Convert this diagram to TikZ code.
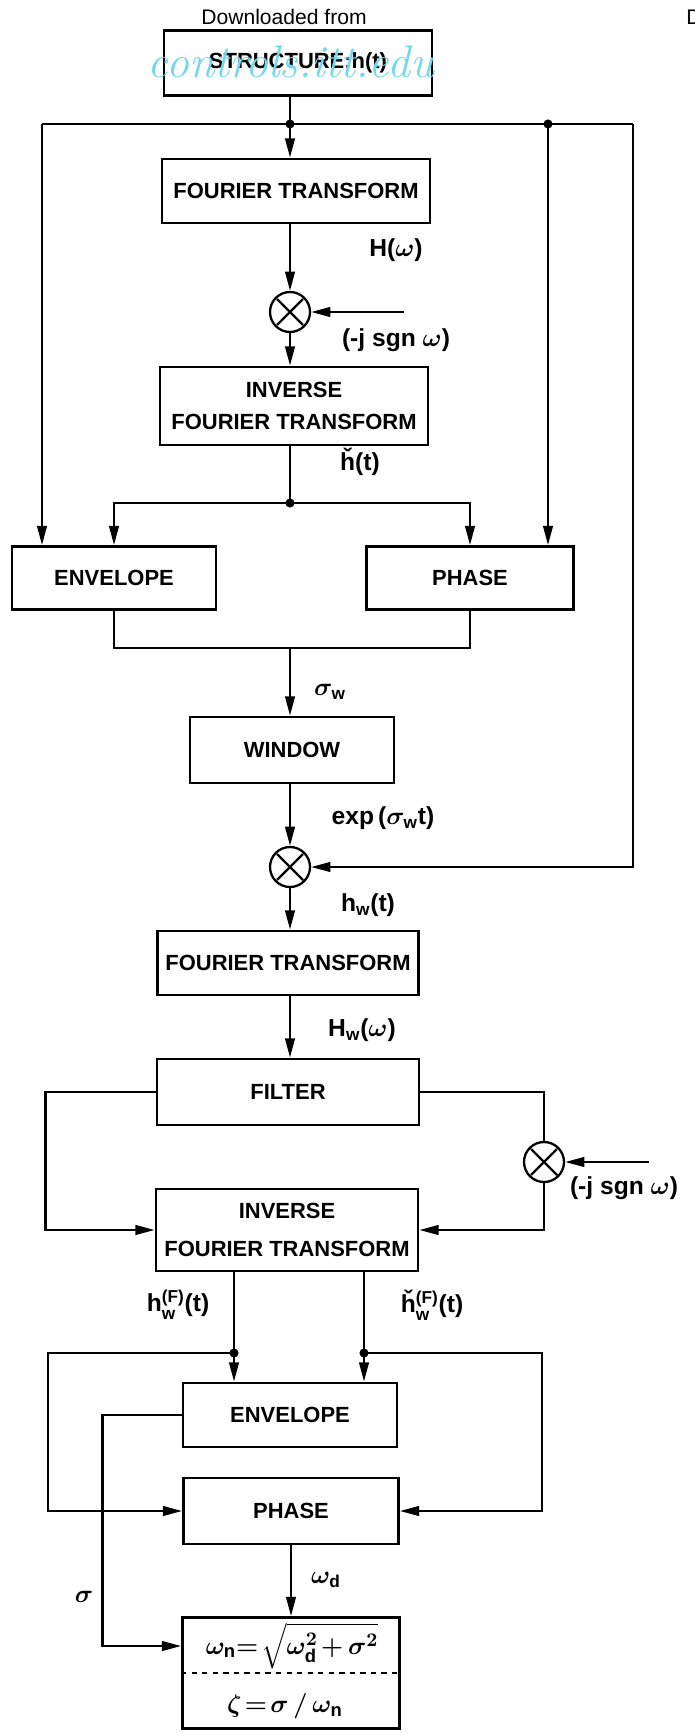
\documentclass[tikz,border=0pt]{standalone}
\usepackage{amsmath}
\usepackage{fontspec}
\setsansfont{Liberation Sans}
\usepackage{tikz}
\usetikzlibrary{arrows.meta}
\definecolor{wmark}{RGB}{115,215,240}

\begin{document}
\begin{tikzpicture}[x=0.02cm,y=-0.02cm,>={Triangle[length=11pt,width=5.5pt]},
  blk/.style={draw,line width=1.6pt,align=center,inner sep=2pt,font=\sffamily\bfseries\boldmath\fontsize{12.5}{18}\selectfont},
  lbl/.style={font=\sffamily\bfseries\boldmath\fontsize{14}{16}\selectfont,inner sep=0pt},
  mult/.style={circle,draw,line width=1.3pt,minimum size=0.8cm,inner sep=0pt,
    path picture={\draw[line width=1.3pt] ([shift={(-0.26cm,-0.26cm)}]path picture bounding box.center) -- ([shift={(0.26cm,0.26cm)}]path picture bounding box.center)
      ([shift={(-0.26cm,0.26cm)}]path picture bounding box.center) -- ([shift={(0.26cm,-0.26cm)}]path picture bounding box.center);}},
  wire/.style={line width=1.3pt}]
\useasboundingbox (0,0) rectangle (695,1733);
\node[font=\sffamily\fontsize{12}{14}\selectfont] (dl) at (284,17) {Downloaded from};
\node[font=\sffamily\fontsize{12}{14}\selectfont,anchor=west,inner sep=0pt] (dr) at (686,17) {D};
\node[blk,minimum width=5.36cm,minimum height=1.3cm] (struct) at (298,63) {STRUCTURE:h(t)};
\node[blk,minimum width=5.36cm,minimum height=1.28cm] (ft1) at (296,191) {FOURIER TRANSFORM};
\node[mult] (mul1) at (290,312) {};
\node[blk,minimum width=5.36cm,minimum height=1.56cm] (ift1) at (294,406) {INVERSE\\FOURIER TRANSFORM};
\node[blk,minimum width=4.08cm,minimum height=1.26cm] (env1) at (114,578) {ENVELOPE};
\node[blk,minimum width=4.14cm,minimum height=1.26cm] (ph1) at (470,578) {PHASE};
\node[blk,minimum width=4.08cm,minimum height=1.32cm] (win) at (292,750) {WINDOW};
\node[mult] (mul2) at (290,867) {};
\node[blk,minimum width=5.22cm,minimum height=1.28cm] (ft2) at (288,963) {FOURIER TRANSFORM};
\node[blk,minimum width=5.24cm,minimum height=1.32cm] (filt) at (288,1092) {FILTER};
\node[mult] (mul3) at (544,1162) {};
\node[blk,minimum width=5.24cm,minimum height=1.64cm] (ift2) at (287,1230) {INVERSE\\[4pt]FOURIER TRANSFORM};
\node[blk,minimum width=4.28cm,minimum height=1.28cm] (env2) at (290,1415) {ENVELOPE};
\node[blk,minimum width=4.3cm,minimum height=1.32cm] (ph2) at (291,1511) {PHASE};
\node[blk,minimum width=4.34cm,minimum height=2.22cm] (res) at (291,1673) {};
\node[lbl,font=\sffamily\bfseries\boldmath\fontsize{15}{17}\selectfont] (wn) at (292,1646) {$\omega_{\text{n}}{=}\mkern2mu\sqrt{\omega_{\text{d}}^2\mkern2mu{+}\mkern3mu\sigma^2}$};
\node[lbl,font=\sffamily\bfseries\boldmath\fontsize{15}{17}\selectfont] (zeta) at (285,1706) {$\zeta\mkern2mu{=}\mkern2mu\sigma\,/\,\omega_{\text{n}}$};
\coordinate (dv) at (291,1673);
\draw[wire,dashed] (res.west |- dv) -- (res.east |- dv);
\node[text=wmark,font=\rmfamily\itshape\fontsize{26}{26}\selectfont] (wm) at (291,62) {controls.itt.edu};

\coordinate (jtop) at (290,124);
\coordinate (jl) at (42,124);
\coordinate (jp) at (548,124);
\coordinate (jr) at (633,124);
\draw[wire] (struct.south -| jtop) -- (jtop);
\draw[wire,->] (jtop) -- (jtop |- ft1.north);
\draw[wire] (jl) -- (jr);
\draw[wire,->] (jl) -- (jl |- env1.north);
\draw[wire,->] (jp) -- (jp |- ph1.north);
\draw[wire,->] (jr) |- (mul2.east);
\fill (jtop) circle (2.6pt);
\fill (jp) circle (2.6pt);
\draw[wire,->] (ft1.south -| mul1) -- (mul1.north);
\coordinate (in1) at (404,312);
\draw[wire,->] (in1) -- (mul1.east);
\draw[wire,->] (mul1.south) -- (mul1.south |- ift1.north);
\coordinate (sp1) at (290,503);
\draw[wire] (ift1.south -| sp1) -- (sp1);
\draw[wire,->] (sp1) -| (env1.north);
\draw[wire,->] (sp1) -| (ph1.north);
\fill (sp1) circle (2.6pt);
\coordinate (mg) at (290,648);
\draw[wire] (env1.south) |- (mg) -| (ph1.south);
\draw[wire,->] (mg) -- (mg |- win.north);
\draw[wire,->] (win.south -| mul2) -- (mul2.north);
\draw[wire,->] (mul2.south) -- (mul2.south |- ft2.north);
\draw[wire,->] (ft2.south -| mul2) -- (mul2 |- filt.north);
\draw[wire,->] (filt.west) -- ++(-110,0) |- (ift2.west);
\draw[wire] (filt.east) -| (mul3.north);
\draw[wire,->] (mul3.south) |- (ift2.east);
\coordinate (in3) at (649,1162);
\draw[wire,->] (in3) -- (mul3.east);
\coordinate (sL) at (234,1353);
\coordinate (sR) at (364,1353);
\draw[wire,->] (ift2.south -| sL) -- (sL |- env2.north);
\draw[wire,->] (ift2.south -| sR) -- (sR |- env2.north);
\fill (sL) circle (2.6pt);
\fill (sR) circle (2.6pt);
\draw[wire,->] (sL) -- ++(-186,0) |- (ph2.west);
\draw[wire,->] (sR) -- ++(178,0) |- (ph2.east);
\draw[wire,->] (env2.west) -- ++(-79,0) |- (res.west |- wn);
\draw[wire,->] (ph2.south) -- (res.north);

\node[lbl] (lH) at (396,250) {H($\omega$)};
\node[lbl] (lsg1) at (396,340) {(-j sgn $\omega$)};
\node[lbl] (lhc) at (360,462) {\v{h}(t)};
\node[lbl] (lsw) at (330,692) {$\sigma_{\text{w}}$};
\node[lbl] (lexp) at (383,818) {exp\,($\sigma_{\text{w}}$t)};
\node[lbl] (lhw) at (368,905) {h$_{\text{w}}$(t)};
\node[lbl] (lHw) at (362,1030) {H$_{\text{w}}$($\omega$)};
\node[lbl] (lsg2) at (624,1188) {(-j sgn $\omega$)};
\node[lbl] (lhF) at (178,1305) {h$^{\text{(F)}}_{\text{w}}$(t)};
\node[lbl] (lhcF) at (432,1305) {\v{h}$^{\text{(F)}}_{\text{w}}$(t)};
\node[lbl] (lwd) at (326,1580) {$\omega_{\text{d}}$};
\node[lbl] (ls) at (84,1597) {$\sigma$};
\end{tikzpicture}
\end{document}
